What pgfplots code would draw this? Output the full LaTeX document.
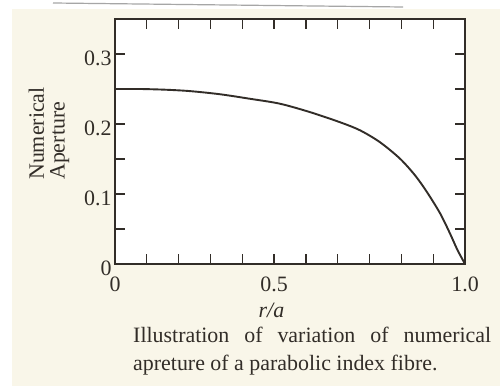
\documentclass[border=0pt]{standalone}
\usepackage{pgfplots}
\pgfplotsset{compat=1.18}
\usepackage{fontspec}
\setmainfont{Liberation Serif}
\definecolor{paper}{RGB}{249,246,233}
\definecolor{ink}{RGB}{50,45,40}
\begin{document}
\begin{tikzpicture}[x=1bp,y=1bp]
\fill[white] (0,0) rectangle (500,386);
\fill[paper] (12,0) rectangle (500,377);
\draw[black!35, line width=1.2bp] (53,383) -- (403,379);
\begin{axis}[
  at={(115bp,122bp)}, anchor=south west,
  scale only axis, width=350bp, height=245bp,
  xmin=0, xmax=1, ymin=0, ymax=0.35,
  axis background/.style={fill=white},
  axis line style={ink, line width=1.3bp},
  xtick={0,0.0909,0.1818,0.2727,0.3636,0.4545,0.5455,0.6364,0.7273,0.8182,0.9091,1},
  xticklabels={0,,,,,0.5,,,,,,1.0\hspace{12bp}},
  ytick={0,0.05,0.1,0.15,0.2,0.25,0.3},
  yticklabels={0,,0.1,,0.2,,0.3},
  tick align=inside, tick pos=both,
  major tick length=10bp,
  tick style={ink, line width=1.2bp},
  ticklabel style={font=\fontsize{22}{22}\selectfont, text=ink},
  yticklabel style={yshift=-4bp},
  xticklabel style={yshift=-9bp},
  xlabel={\textit{r/a}},
  xlabel style={at={(axis description cs:0.447,0)}, anchor=north, yshift=-36bp, font=\fontsize{22}{22}\selectfont, text=ink},
  clip=false,
]
\addplot[ink, line width=1.9bp, smooth, tension=0.5] coordinates {
(0,0.250) (0.071,0.250) (0.143,0.249) (0.214,0.247) (0.300,0.2425) (0.386,0.236)
(0.471,0.229) (0.557,0.217) (0.643,0.2025) (0.700,0.191) (0.757,0.174)
(0.814,0.1506) (0.857,0.1268) (0.891,0.103) (0.929,0.0722) (0.957,0.0437)
(0.978,0.0205) (1.0,0)
};
\end{axis}
\node[rotate=90, anchor=west, align=left, inner sep=0pt, font=\fontsize{22}{21}\selectfont, text=ink] at (49,206) {Numerical\\Aperture};
\node[anchor=base west, inner sep=0pt, font=\fontsize{22}{22}\selectfont, text=ink] at (133,44) {\hbox to 358bp{Illustration\hfill of\hfill variation\hfill of\hfill numerical}};
\node[anchor=base west, inner sep=0pt, font=\fontsize{22}{22}\selectfont, text=ink] at (133,16) {apreture of a parabolic index fibre.};
\end{tikzpicture}
\end{document}
